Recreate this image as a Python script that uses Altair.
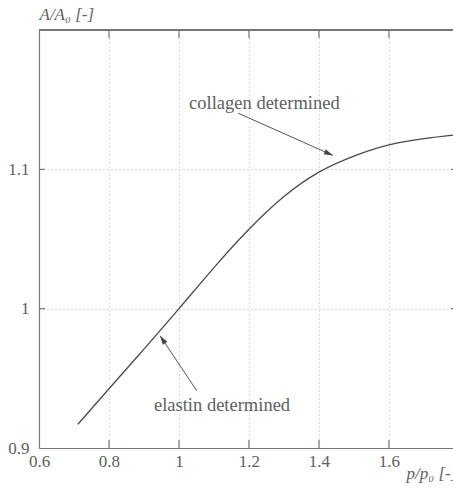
import altair as alt
import pandas as pd

# Normalised pressure p/p0 and normalised area A/A0 along the curve
p_vals = [0.711, 0.8, 0.9, 1.0, 1.1, 1.2, 1.3, 1.4, 1.5, 1.6, 1.7, 1.783]
a_vals = [0.917, 0.9425, 0.971, 1.000, 1.0295, 1.057, 1.0805, 1.098,
          1.1095, 1.1175, 1.122, 1.1245]

# Tick positions
x_ticks = [0.6, 0.8, 1.0, 1.2, 1.4, 1.6]
y_ticks = [0.9, 1.0, 1.1]
x_inner = [0.8, 1.0, 1.2, 1.4, 1.6]
y_inner = [1.0, 1.1]

# Annotations: label text, label position, arrow start and arrow tip
ann_labels = ["collagen determined", "elastin determined"]
ann_x = [1.244, 1.123]
ann_y = [1.1475, 0.931]
arr_x0 = [1.169, 1.051]
arr_y0 = [1.1403, 0.941]
arr_x1 = [1.44, 0.946]
arr_y1 = [1.110, 0.9806]
arr_angle = [114, 326]

W, H = 414, 418
FONT = "Liberation Serif"
TXT = "#606060"
AX = "#777777"

xs = alt.Scale(domain=[0.6, 1.783], nice=False, zero=False)
ys = alt.Scale(domain=[0.9, 1.2], nice=False, zero=False)

curve_df = pd.DataFrame({"p": p_vals, "a": a_vals})
ann_df = pd.DataFrame({"label": ann_labels, "x": ann_x, "y": ann_y})
arr_df = pd.DataFrame({"x0": arr_x0, "y0": arr_y0, "x1": arr_x1,
                       "y1": arr_y1, "ang": arr_angle})
xt_df = pd.DataFrame({"xt": x_inner})
yt_df = pd.DataFrame({"yt": y_inner})

x_axis = alt.Axis(
    values=x_ticks, format="~g", ticks=False, grid=True, labelFlush=False,
    gridDash=[1, 3], gridColor="#b8b8b8", gridWidth=1,
    domainColor=AX, domainWidth=1.2,
    labelFont=FONT, labelFontSize=17, labelColor=TXT, labelPadding=5,
    title="p/p₀ [-]", titleFont=FONT, titleFontSize=17, titleFontStyle="italic",
    titleFontWeight="normal", titleColor=TXT, titleAlign="left",
    titleAnchor="start", titleX=367, titleY=30, titleBaseline="alphabetic",
)
y_axis = alt.Axis(
    values=y_ticks, format="~g", ticks=False, grid=True, labelFlush=False,
    gridDash=[1, 3], gridColor="#b8b8b8", gridWidth=1,
    domainColor=AX, domainWidth=1.2,
    labelFont=FONT, labelFontSize=17, labelColor=TXT, labelPadding=10,
    title="A/A₀ [-]", titleFont=FONT, titleFontSize=17, titleFontStyle="italic",
    titleFontWeight="normal", titleColor=TXT, titleAngle=0, titleAlign="left",
    titleAnchor="start", titleX=0, titleY=-11, titleBaseline="alphabetic",
)


def X(field):
    return alt.X(field, type="quantitative", scale=xs, axis=x_axis)


def Y(field):
    return alt.Y(field, type="quantitative", scale=ys, axis=y_axis)


curve = alt.Chart(curve_df).mark_line(
    color="#4a4a4a", strokeWidth=1.3, interpolate="natural"
).encode(x=X("p"), y=Y("a"))

# frame line along the top
top = alt.Chart(curve_df).mark_rule(color=AX, strokeWidth=1.2).encode(
    x=alt.value(0), x2=alt.value(W), y=alt.value(0))

# inward ticks on all four sides
tick_b = alt.Chart(xt_df).mark_rule(color=AX, strokeWidth=1.2).encode(
    x=X("xt"), y=alt.value(H), y2=alt.value(H - 8))
tick_t = alt.Chart(xt_df).mark_rule(color=AX, strokeWidth=1.2).encode(
    x=X("xt"), y=alt.value(0), y2=alt.value(8))
tick_l = alt.Chart(yt_df).mark_rule(color=AX, strokeWidth=1.2).encode(
    y=Y("yt"), x=alt.value(0), x2=alt.value(6))
tick_r = alt.Chart(yt_df).mark_rule(color=AX, strokeWidth=1.2).encode(
    y=Y("yt"), x=alt.value(W - 2), x2=alt.value(W))

arrows = alt.Chart(arr_df).mark_rule(color="#555555", strokeWidth=1).encode(
    x=X("x0"), y=Y("y0"), x2="x1:Q", y2="y1:Q",
)
heads = alt.Chart(arr_df).mark_point(
    shape="M0,0 L-0.3,1 L0.3,1 Z", filled=True, color="#444444",
    size=324, opacity=1,
).encode(
    x=X("x1"), y=Y("y1"),
    angle=alt.Angle("ang:Q", scale=None),
)

labels = alt.Chart(ann_df).mark_text(
    font=FONT, fontSize=18.5, color=TXT, align="center", baseline="middle"
).encode(x=X("x"), y=Y("y"), text="label:N")

chart = alt.layer(
    curve, top, tick_b, tick_t, tick_l, tick_r, arrows, heads, labels
).properties(
    width=W, height=H,
    autosize=alt.AutoSizeParams(type="none"),
    padding={"left": 39, "top": 30, "right": 0, "bottom": 41},
    background="white",
).configure_view(stroke=None)

chart.save("out.html", embed_options={"renderer": "svg", "actions": False})
